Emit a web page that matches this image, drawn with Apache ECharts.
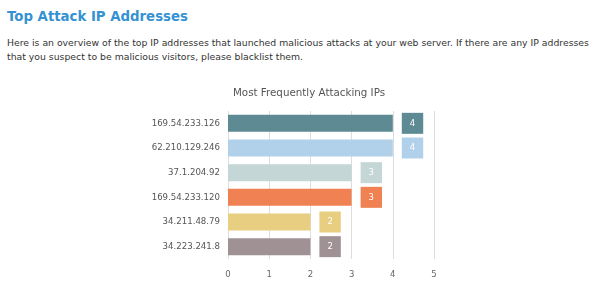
<!DOCTYPE html>
<html>
<head>
<meta charset="utf-8">
<script src="https://cdn.jsdelivr.net/npm/echarts@6/dist/echarts.min.js"></script>
<style>
  html, body { margin: 0; padding: 0; background: #fff; }
  body { width: 600px; height: 286px; position: relative; overflow: hidden; font-family: 'DejaVu Sans', sans-serif; }
  h2 { position: absolute; left: 7px; top: 9px; margin: 0; font-size: 13.3px; line-height: 16px; font-weight: bold; color: #3592d2; }
  p { position: absolute; left: 7px; top: 36px; margin: 0; width: 590px; font-size: 9.3px; line-height: 14px; color: #333; }
  #main { position: absolute; left: 0; top: 0; width: 600px; height: 286px; }
</style>
</head>
<body>
<h2>Top Attack IP Addresses</h2>
<p>Here is an overview of the top IP addresses that launched malicious attacks at your web server. If there are any IP addresses that you suspect to be malicious visitors, please blacklist them.</p>
<div id="main"></div>
<script>
var ips = ['169.54.233.126', '62.210.129.246', '37.1.204.92', '169.54.233.120', '34.211.48.79', '34.223.241.8'];
var attacks = [4, 4, 3, 3, 2, 2];
var barColors = ['#5e8a93', '#b1d0ea', '#c4d6d5', '#ef8152', '#e8ce80', '#a09294'];

var chart = echarts.init(document.getElementById('main'));

chart.setOption({
  title: {
    text: 'Most Frequently Attacking IPs',
    left: 304,
    textAlign: 'center',
    top: 83,
    textStyle: {
      fontFamily: 'DejaVu Sans',
      fontSize: 10.3,
      fontWeight: 'normal',
      color: '#555'
    }
  },
  grid: {
    left: 228,
    right: 166,
    top: 111,
    bottom: 27,
    containLabel: false
  },
  xAxis: {
    type: 'value',
    min: 0,
    max: 5,
    interval: 1,
    axisLine: { show: false },
    axisTick: { show: false },
    splitLine: { lineStyle: { color: '#ddd' } },
    axisLabel: {
      margin: 11,
      fontFamily: 'DejaVu Sans',
      fontSize: 8.5,
      color: '#666'
    }
  },
  yAxis: {
    type: 'category',
    inverse: true,
    data: ips,
    axisLine: { show: false },
    axisTick: { show: false },
    axisLabel: {
      margin: 8,
      fontFamily: 'DejaVu Sans',
      fontSize: 8.6,
      color: '#555'
    }
  },
  series: [{
    type: 'bar',
    barWidth: 17,
    data: attacks.map(function (v, i) {
      return {
        value: v,
        itemStyle: { color: barColors[i] },
        label: { backgroundColor: barColors[i] }
      };
    }),
    label: {
      show: true,
      position: 'right',
      distance: 9,
      padding: [5, 8],
      color: '#fff',
      fontFamily: 'DejaVu Sans',
      fontSize: 8.5,
      lineHeight: 11
    }
  }]
});
</script>
</body>
</html>
